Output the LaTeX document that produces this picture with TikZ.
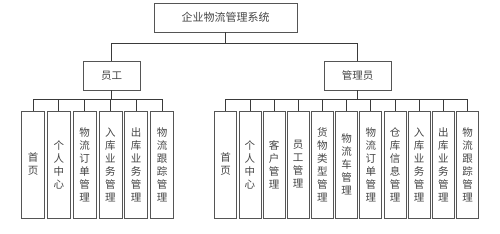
\documentclass[tikz,border=0pt]{standalone}
\usepackage{fontspec}
\newfontfamily\cjk{Noto Sans CJK SC}
\definecolor{wlline}{HTML}{3a3a3a}
\definecolor{wlbox}{HTML}{555555}
\definecolor{wltext}{HTML}{444444}
\usepackage{tikz}
\usetikzlibrary{positioning}

\begin{document}
\begin{tikzpicture}[
  x=1pt, y=-1pt,
  sysbox/.style={
    draw=wlbox, line width=0.8pt, minimum width=143pt, minimum height=29pt,
    inner sep=0pt, font=\cjk\fontsize{11}{13}\selectfont, text=wltext,
  },
  rolebox/.style={
    draw=wlbox, line width=0.8pt, minimum height=29pt,
    inner sep=0pt, font=\cjk\fontsize{10.5}{13}\selectfont, text=wltext,
  },
  funcbox/.style={
    draw=wlbox, line width=0.8pt, minimum height=107pt, minimum width=22pt,
    inner sep=0pt, align=center, font=\cjk\fontsize{10.5}{13}\selectfont, text=wltext,
  },
  tree/.style={draw=wlline, line width=0.8pt},
]
  \useasboundingbox (0,0) rectangle (500,233);

  % --- top ---
  \node[sysbox] (sys) at (225.5,17.5) {企业物流管理系统};

  % --- roles ---
  \node[rolebox, minimum width=57pt] (yg) at (111.5,75.5) {员工};
  \node[rolebox, minimum width=67pt] (gly) at (357.5,75.5) {管理员};
  \draw[tree] (sys.south) -- ++(0,11) -| (yg.north);
  \draw[tree] (sys.south) -- ++(0,11) -| (gly.north);

  % --- 员工 functions ---
  \node[funcbox, minimum width=23pt] (y-sy)   at (33,164.5)    {首\\页};
  \node[funcbox, minimum width=23pt] (y-gr)   at (58.8,164.5)  {个\\人\\中\\心};
  \node[funcbox, minimum width=23pt] (y-dd)   at (84.6,164.5)  {物\\流\\订\\单\\管\\理};
  \node[funcbox, minimum width=23pt] (y-rk)   at (110.4,164.5) {入\\库\\业\\务\\管\\理};
  \node[funcbox, minimum width=23pt] (y-ck)   at (136.2,164.5) {出\\库\\业\\务\\管\\理};
  \node[funcbox, minimum width=23pt] (y-gz)   at (162,164.5)   {物\\流\\跟\\踪\\管\\理};
  \foreach \n in {y-sy,y-gr,y-dd,y-rk,y-ck,y-gz}
    \draw[tree] (yg.south) -- ++(0,9) -| (\n.north);

  % --- 管理员 functions ---
  \node[funcbox] (g-sy) at (225.7,164.5) {首\\页};
  \node[funcbox] (g-gr) at (249.9,164.5) {个\\人\\中\\心};
  \node[funcbox] (g-kh) at (274.1,164.5) {客\\户\\管\\理};
  \node[funcbox] (g-yg) at (298.2,164.5) {员\\工\\管\\理};
  \node[funcbox] (g-lx) at (322.4,164.5) {货\\物\\类\\型\\管\\理};
  \node[funcbox] (g-wc) at (346.6,164.5) {物\\流\\车\\管\\理};
  \node[funcbox] (g-dd) at (370.8,164.5) {物\\流\\订\\单\\管\\理};
  \node[funcbox] (g-ck) at (395,164.5)   {仓\\库\\信\\息\\管\\理};
  \node[funcbox] (g-rk) at (419.1,164.5) {入\\库\\业\\务\\管\\理};
  \node[funcbox] (g-cc) at (443.3,164.5) {出\\库\\业\\务\\管\\理};
  \node[funcbox] (g-gz) at (467.5,164.5) {物\\流\\跟\\踪\\管\\理};
  \foreach \n in {g-sy,g-gr,g-kh,g-yg,g-lx,g-wc,g-dd,g-ck,g-rk,g-cc,g-gz}
    \draw[tree] (gly.south) -- ++(0,9) -| (\n.north);
\end{tikzpicture}
\end{document}
